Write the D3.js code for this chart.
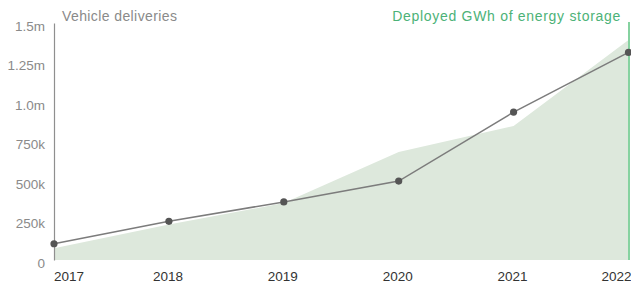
<!DOCTYPE html>
<html>
<head>
<meta charset="utf-8">
<script src="https://cdn.jsdelivr.net/npm/d3@7"></script>
<style>
  body { margin: 0; background: #fff; }
  svg { display: block; font-family: "Liberation Sans", Arial, sans-serif; }
  .y.axis text { fill: #8a8a8a; font-size: 13.5px; }
  .y.axis path { stroke: #8f8f8f; stroke-width: 1.2; }
  .x-label { fill: #333; font-size: 13.5px; }
</style>
</head>
<body>
<svg id="chart" width="631" height="283"></svg>
<script>
var years = [2017, 2018, 2019, 2020, 2021, 2022];
var deliveries = [103000, 245000, 367500, 499500, 936000, 1314000];
var storageGWh = [0.35, 1.05, 1.68, 3.19, 3.96, 6.5];
var yTicks = [0, 250000, 500000, 750000, 1000000, 1250000, 1500000];
var yTickLabels = ["0", "250k", "500k", "750k", "1.0m", "1.25m", "1.5m"];

var margin = {top: 23, right: 2.5, bottom: 23, left: 54},
	width = 631 - margin.left - margin.right,
	height = 283 - margin.top - margin.bottom;

var svg = d3.select("#chart");

var xScale = d3.scaleLinear().domain([2017, 2022]).range([margin.left, margin.left + width]);
var yScale = d3.scaleLinear().domain([0, 1500000]).range([margin.top + height, margin.top]);
var yStorage = d3.scaleLinear().domain([0, 7]).range([margin.top + height, margin.top]);

var data = years.map(function(y, i) {
	return {year: y, deliveries: deliveries[i], storage: storageGWh[i]};
});

// energy storage area (hidden right scale)
var area = d3.area()
	.x(function(d) { return xScale(d.year); })
	.y0(yStorage(0))
	.y1(function(d) { return yStorage(d.storage); });

svg.append("path")
	.datum(data)
	.attr("d", area)
	.style("fill", "#dde8dc");

// right axis line
svg.append("line")
	.attr("x1", xScale(2022) + 0.5)
	.attr("x2", xScale(2022) + 0.5)
	.attr("y1", yStorage(7) - 1)
	.attr("y2", yStorage(0))
	.style("stroke", "#86d2a0")
	.style("stroke-width", 2);

// left axis
var yAxis = d3.axisLeft(yScale)
	.tickValues(yTicks)
	.tickSize(0)
	.tickPadding(9)
	.tickFormat(function(d, i) { return yTickLabels[i]; });

svg.append("g")
	.attr("class", "y axis")
	.attr("transform", "translate(" + margin.left + ",0)")
	.call(yAxis)
	.selectAll("text")
	.attr("dy", "0.55em");

// x labels
svg.selectAll(".x-label")
	.data(years)
	.enter().append("text")
	.attr("class", "x-label")
	.attr("x", function(d, i) {
		if (i === 0) return xScale(d);
		if (i === years.length - 1) return xScale(d) + 3;
		return xScale(d) - 1;
	})
	.attr("y", 281)
	.attr("text-anchor", function(d, i) {
		if (i === 0) return "start";
		if (i === years.length - 1) return "end";
		return "middle";
	})
	.text(function(d) { return d; });

// deliveries line
var line = d3.line()
	.x(function(d) { return xScale(d.year); })
	.y(function(d) { return yScale(d.deliveries); });

svg.append("path")
	.datum(data)
	.attr("d", line)
	.style("fill", "none")
	.style("stroke", "#7c7c7c")
	.style("stroke-width", 1.5);

svg.selectAll(".dot")
	.data(data)
	.enter().append("circle")
	.attr("class", "dot")
	.attr("cx", function(d) { return xScale(d.year); })
	.attr("cy", function(d) { return yScale(d.deliveries); })
	.attr("r", 3.6)
	.style("fill", "#555");

// titles
svg.append("text")
	.attr("x", 62)
	.attr("y", 21)
	.style("font-size", "14px")
	.style("letter-spacing", "0.4px")
	.style("fill", "#8a8a8a")
	.text("Vehicle deliveries");

svg.append("text")
	.attr("x", 621)
	.attr("y", 21)
	.attr("text-anchor", "end")
	.style("font-size", "14px")
	.style("letter-spacing", "0.7px")
	.style("fill", "#4cb277")
	.text("Deployed GWh of energy storage");
</script>
</body>
</html>
